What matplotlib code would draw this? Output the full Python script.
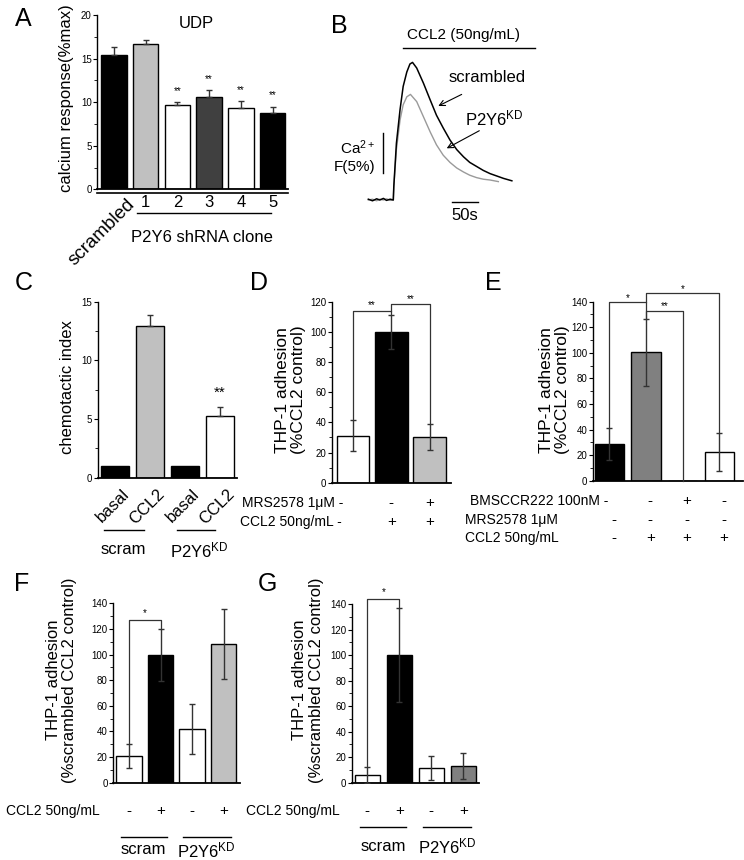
import numpy as np
import matplotlib
matplotlib.use('Agg')
import matplotlib.pyplot as plt
import matplotlib.transforms as mtransforms
from matplotlib.ticker import MultipleLocator

plt.rcParams['font.family'] = ['Liberation Sans', 'DejaVu Sans']
plt.rcParams['mathtext.fontset'] = 'custom'
plt.rcParams['mathtext.rm'] = 'Liberation Sans'
plt.rcParams['mathtext.it'] = 'Liberation Sans:italic'
plt.rcParams['mathtext.bf'] = 'Liberation Sans:bold'

W, H = 744, 860
KD = 'P2Y6$^{\\mathrm{KD}}$'

# ---- A: calcium response to UDP
a_labels = ['scrambled', '1', '2', '3', '4', '5']
a_values = [15.4, 16.7, 9.7, 10.6, 9.3, 8.7]
a_errors = [0.9, 0.4, 0.3, 0.8, 0.8, 0.8]
a_colors = ['black', '#c0c0c0', 'white', '#404040', 'white', 'black']
a_stars = ['', '', '**', '**', '**', '**']

# ---- B: calcium traces (time in s, %F)
b_time_scr = [-48, -40, -32, -26, -19, -13, -6, 0, 1, 6, 13, 19, 26, 32, 37,
              45, 58, 71, 83, 96, 109, 122, 135, 147, 160, 173, 186, 199, 212, 228]
b_scr = [0.1, -0.1, 0.15, 0.0, 0.2, -0.05, 0.1, 0.0, 1.7, 7.1, 11.3, 14.2, 16.0, 17.0, 17.2,
         16.5, 14.6, 12.5, 10.6, 9.0, 7.5, 6.3, 5.4, 4.7, 4.2, 3.7, 3.3, 3.0, 2.7, 2.4]
b_time_kd = [-48, -40, -32, -26, -19, -13, -6, 0, 1, 6, 13, 19, 26, 33,
             45, 58, 71, 83, 96, 109, 122, 135, 147, 160, 173, 186, 202]
b_kd = [0.0, 0.1, -0.1, 0.1, 0.0, 0.15, -0.05, 0.0, 1.7, 6.3, 10.0, 11.9, 12.9, 13.2,
        12.3, 10.4, 8.5, 6.9, 5.6, 4.7, 4.0, 3.5, 3.1, 2.8, 2.6, 2.5, 2.3]

# ---- C: chemotaxis
c_labels = ['basal', 'CCL2', 'basal', 'CCL2']
c_values = [1.0, 12.9, 1.0, 5.3]
c_errors = [0, 1.0, 0, 0.75]
c_colors = ['black', '#c0c0c0', 'black', 'white']

# ---- D: adhesion, MRS2578
d_values = [31, 100, 30.5]
d_errors = [10.3, 11.2, 8.5]
d_colors = ['white', 'black', '#c0c0c0']
d_mrs = ['-', '-', '+']
d_ccl2 = ['-', '+', '+']

# ---- E: adhesion, BMSCCR222 / MRS2578
e_values = [28.7, 100.4, 0, 22.4]
e_errors = [12.3, 26.0, 0, 15.2]
e_colors = ['black', '#808080', 'white', 'white']
e_bms = ['-', '-', '+', '-']
e_mrs = ['-', '-', '-', '-']
e_ccl2 = ['-', '+', '+', '+']

# ---- F / G: adhesion, scrambled vs KD
f_values = [20.8, 99.7, 41.7, 108.3]
f_errors = [9.2, 20.0, 19.5, 27.5]
f_colors = ['white', 'black', 'white', '#c0c0c0']
g_values = [6.0, 100, 11.8, 13.3]
g_errors = [6.0, 36.7, 9.4, 10.3]
g_colors = ['white', 'black', 'white', '#808080']
fg_ccl2 = ['-', '+', '-', '+']

fig = plt.figure(figsize=(7.44, 8.6), dpi=100)


def fy(py):
    return 1 - py / H


def ftext(px, py, s, **kw):
    kw.setdefault('ha', 'center')
    kw.setdefault('va', 'center')
    fig.text(px / W, fy(py), s, **kw)


def px_axes(left, top, right, bottom):
    return fig.add_axes([left / W, 1 - bottom / H, (right - left) / W, (bottom - top) / H])


def bl(ax):
    return mtransforms.blended_transform_factory(ax.transData, fig.transFigure)


def style_axes(ax, xlim, ylim, major, minor):
    ax.set_xlim(*xlim)
    ax.set_ylim(*ylim)
    ax.patch.set_alpha(0)
    for s in ['top', 'right']:
        ax.spines[s].set_visible(False)
    ax.spines['left'].set_linewidth(1.0)
    ax.spines['bottom'].set_linewidth(1.3)
    ax.yaxis.set_major_locator(MultipleLocator(major))
    ax.yaxis.set_minor_locator(MultipleLocator(minor))
    ax.tick_params(axis='y', which='major', length=3, width=0.8, labelsize=7, pad=1)
    ax.tick_params(axis='y', which='minor', length=2, width=0.6)
    ax.tick_params(axis='x', which='both', length=0, labelbottom=False)


def draw_bars(ax, values, errors, colors, width, two_sided=True):
    x = np.arange(len(values))
    ax.bar(x, values, width=width, color=colors, edgecolor='black', linewidth=1.0, zorder=2)
    keep = [i for i in x if errors[i] > 0]
    err = np.array(errors)[keep]
    lower = err if two_sided else np.zeros(len(err))
    ax.errorbar(np.array(x)[keep], np.array(values)[keep], yerr=[lower, err], fmt='none',
                ecolor='#333333', elinewidth=1.0, capsize=2.5, capthick=1.0, zorder=3)


def bracket(ax, x0, x1, y, y0, y1, label, ty, fs=7):
    ax.plot([x0, x0, x1, x1], [y0, y, y, y1], color='#333333', lw=0.9, clip_on=False, zorder=4)
    ax.text((x0 + x1) / 2, ty, label, ha='center', va='center', fontsize=fs)


def sign_row(ax, signs, py, start=0, offset=0.0, fs=11):
    for i, s in enumerate(signs[start:]):
        ax.text(start + i + offset, fy(py), s, transform=bl(ax), ha='center', va='center', fontsize=fs)


def group_line(ax, x0, x1, py, label, tx, ty, fs=12):
    ax.plot([x0, x1], [fy(py), fy(py)], transform=bl(ax), color='black', lw=1.0, clip_on=False)
    ax.text(tx, fy(ty), label, transform=bl(ax), ha='center', va='center', fontsize=fs)


# ================= A
axA = px_axes(97.3, 15, 288, 189.3)
style_axes(axA, (-0.52, 5.48), (0, 20), 5, 2.5)
draw_bars(axA, a_values, a_errors, a_colors, 0.8, two_sided=False)
axA.plot([0, 1], [-0.02, -0.02], transform=axA.transAxes, color='black', lw=1.2, clip_on=False)
for i, s in enumerate(a_stars):
    if s:
        axA.text(i, a_values[i] + a_errors[i] + 1.3, s, ha='center', va='center', fontsize=7)
axA.text(0.38, fy(196), a_labels[0], transform=bl(axA), rotation=45, rotation_mode='anchor',
         ha='right', va='top', fontsize=13.5)
for i in range(1, len(a_labels)):
    axA.text(i, fy(203), a_labels[i], transform=bl(axA), ha='center', va='center', fontsize=12)
group_line(axA, 0.72, 4.96, 212.7, 'P2Y6 shRNA clone', 2.77, 237)
ftext(67, 98, 'calcium response(%max)', rotation=90, fontsize=12)
ftext(196, 23, 'UDP', fontsize=12)
ftext(23, 19, 'A', fontsize=18)

# ================= B
axB = px_axes(330, 20, 540, 225)
axB.set_xlim(-121.7, 282.1)
axB.set_ylim(-3.125, 22.5)
axB.axis('off')
axB.plot(b_time_kd, b_kd, color='#9a9a9a', lw=1.0)
axB.plot(b_time_scr, b_scr, color='black', lw=1.1)
axB.plot([18, 272.5], [18.96, 18.96], color='black', lw=1.0)
axB.text(134.8, 20.6, 'CCL2 (50ng/mL)', ha='center', va='center', fontsize=11)
axB.plot([-20.4, -20.4], [3.35, 8.35], color='black', lw=1.0)
axB.text(-35.2, 6.5, 'Ca$^{2+}$', ha='right', va='center', fontsize=11)
axB.text(-35.2, 4.1, 'F(5%)', ha='right', va='center', fontsize=11)
axB.plot([112.9, 162.9], [-0.2, -0.2], color='black', lw=1.0)
axB.text(138, -1.9, '50s', ha='center', va='center', fontsize=12)
axB.text(107, 15.25, 'scrambled', ha='left', va='center', fontsize=12)
axB.annotate('', xy=(86.5, 11.75), xytext=(131.5, 13.2),
             arrowprops=dict(arrowstyle='->', lw=0.8, color='black', shrinkA=0, shrinkB=0))
axB.text(137.8, 10.25, KD, ha='left', va='center', fontsize=12)
axB.annotate('', xy=(102.7, 6.46), xytext=(165.4, 8.66),
             arrowprops=dict(arrowstyle='->', lw=0.8, color='black', shrinkA=0, shrinkB=0))
ftext(339, 26, 'B', fontsize=18)

# ================= C
axC = px_axes(97.7, 301.7, 236.7, 477.7)
style_axes(axC, (-0.5, 3.48), (0, 15), 5, 2.5)
draw_bars(axC, c_values, c_errors, c_colors, 0.81, two_sided=False)
axC.text(3, c_values[3] + c_errors[3] + 1.15, '**', ha='center', va='center', fontsize=11)
for i, s in enumerate(c_labels):
    axC.text(i + 0.2, fy(486), s, transform=bl(axC), rotation=45, rotation_mode='anchor',
             ha='right', va='top', fontsize=12)
group_line(axC, -0.32, 0.82, 530, 'scram', 0.22, 550)
group_line(axC, 1.76, 2.85, 530, KD, 2.4, 550)
ftext(67, 387, 'chemotactic index', rotation=90, fontsize=12)
ftext(24, 283, 'C', fontsize=18)

# ================= D
axD = px_axes(331.7, 301.7, 450.5, 482.7)
style_axes(axD, (-0.55, 2.54), (0, 120), 20, 10)
draw_bars(axD, d_values, d_errors, d_colors, 0.85)
bracket(axD, 0, 1, 113.7, d_values[0] + d_errors[0], d_values[1] + d_errors[1], '**', 117.5)
bracket(axD, 1, 2, 118.5, 113.7, d_values[2] + d_errors[2], '**', 122)
ftext(343.3, 503.3, 'MRS2578 1\u03bcM ' + d_mrs[0], ha='right', fontsize=10)
ftext(341.7, 521.7, 'CCL2 50ng/mL ' + d_ccl2[0], ha='right', fontsize=10)
sign_row(axD, d_mrs, 503.3, start=1)
sign_row(axD, d_ccl2, 521.7, start=1)
ftext(290.5, 390, 'THP-1 adhesion\n(%CCL2 control)', rotation=90, fontsize=12.5, linespacing=1.1)
ftext(259, 283, 'D', fontsize=18)

# ================= E
axE = px_axes(592.7, 301.7, 743.3, 480.7)
style_axes(axE, (-0.45, 3.65), (0, 140), 20, 10)
draw_bars(axE, e_values, e_errors, e_colors, 0.8)
bracket(axE, 0, 1, 139.5, e_values[0] + e_errors[0], e_values[1] + e_errors[1], '*', 143)
bracket(axE, 1, 2, 132.9, e_values[1] + e_errors[1], 0, '**', 136.5)
bracket(axE, 1, 3, 146.5, 139.5, e_values[3] + e_errors[3], '*', 150)
ftext(608.3, 500.7, 'BMSCCR222 100nM ' + e_bms[0], ha='right', fontsize=10)
ftext(465, 520, 'MRS2578 1\u03bcM', ha='left', fontsize=10)
ftext(465, 538.3, 'CCL2 50ng/mL', ha='left', fontsize=10)
sign_row(axE, e_bms, 500.7, start=1, offset=0.12)
sign_row(axE, e_mrs, 520, offset=0.12)
sign_row(axE, e_ccl2, 538.3, offset=0.12)
ftext(554.5, 390, 'THP-1 adhesion\n(%CCL2 control)', rotation=90, fontsize=12.5, linespacing=1.1)
ftext(493, 283, 'E', fontsize=18)

# ================= F
axF = px_axes(113.3, 603.3, 240, 782.7)
style_axes(axF, (-0.5, 3.52), (0, 140), 20, 10)
draw_bars(axF, f_values, f_errors, f_colors, 0.8)
bracket(axF, 0, 1, 127, f_values[0] + f_errors[0], f_values[1] + f_errors[1], '*', 132)
ftext(100, 810.7, 'CCL2 50ng/mL', ha='right', fontsize=10)
sign_row(axF, fg_ccl2, 810.7)
group_line(axF, -0.27, 1.19, 837, 'scram', 0.44, 850)
group_line(axF, 1.72, 3.25, 837, KD, 2.46, 850)
ftext(61.7, 680, 'THP-1 adhesion\n(%scrambled CCL2 control)', rotation=90, fontsize=12, linespacing=1.1)
ftext(22, 584, 'F', fontsize=18)

# ================= G
axG = px_axes(352, 604, 479.3, 782.7)
style_axes(axG, (-0.48, 3.5), (0, 140), 20, 10)
draw_bars(axG, g_values, g_errors, g_colors, 0.8)
bracket(axG, 0, 1, 143.7, g_values[0] + g_errors[0], g_values[1] + g_errors[1], '*', 149)
ftext(340, 810.7, 'CCL2 50ng/mL', ha='right', fontsize=10)
sign_row(axG, fg_ccl2, 810.7)
group_line(axG, -0.22, 1.21, 826.7, 'scram', 0.49, 846.7)
group_line(axG, 1.75, 3.24, 826.7, KD, 2.5, 846.7)
ftext(308, 680, 'THP-1 adhesion\n(%scrambled CCL2 control)', rotation=90, fontsize=12, linespacing=1.1)
ftext(267, 584, 'G', fontsize=18)

fig.savefig('out.png', dpi=100)
